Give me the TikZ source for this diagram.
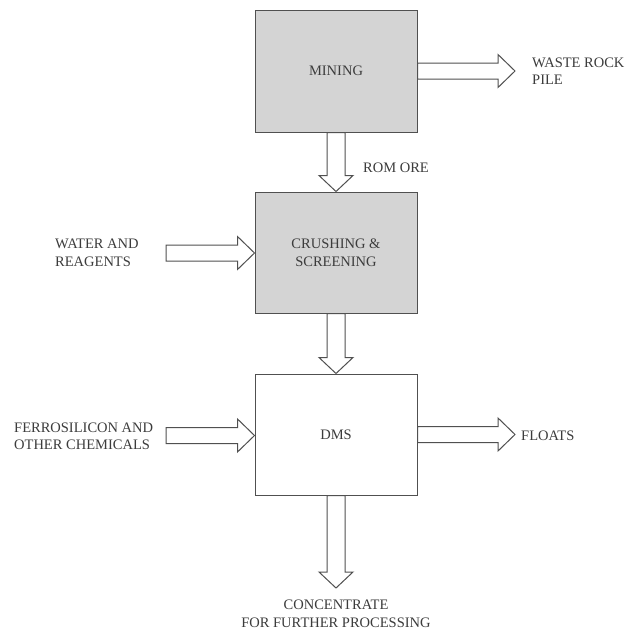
\documentclass[tikz,border=0pt]{standalone}
\usepackage{fontspec}
\setmainfont{Liberation Serif}
\usetikzlibrary{calc}
\definecolor{boxgray}{HTML}{D4D4D4}
\definecolor{linegray}{HTML}{505050}
\definecolor{txtgray}{HTML}{3C3C3C}
\newcommand\rarrow[2]{\draw[blk] let \p1=(#1), \p2=(#2) in (\x1,\y1+8pt) -- (\x2-17pt,\y1+8pt) -- (\x2-17pt,\y1+16.5pt) -- (\x2,\y1) -- (\x2-17pt,\y1-16.5pt) -- (\x2-17pt,\y1-8pt) -- (\x1,\y1-8pt) -- cycle;}
\newcommand\darrow[2]{\draw[blk] let \p1=(#1), \p2=(#2) in (\x1-9pt,\y1) -- (\x1-9pt,\y2+16pt) -- (\x1-17pt,\y2+16pt) -- (\x1,\y2) -- (\x1+17pt,\y2+16pt) -- (\x1+9pt,\y2+16pt) -- (\x1+9pt,\y1) -- cycle;}
\begin{document}
\begin{tikzpicture}[x=1pt,y=-1pt,
  box/.style={draw=linegray, line width=1pt, minimum width=162pt, minimum height=122pt, inner sep=0pt, font=\fontsize{14.5}{17.5}\selectfont, text=txtgray, align=center},
  lbl/.style={font=\fontsize{14.5}{17.5}\selectfont, text=txtgray, inner sep=0pt, align=left},
  blk/.style={draw=linegray, line width=1pt, fill=white, line join=miter}]
\useasboundingbox[fill=white] (0,0) rectangle (643,632);
\node[box, fill=boxgray] (mining) at (336,71) {MINING};
\node[box, fill=boxgray, minimum height=121pt] (crush) at (336,252.5) {CRUSHING \&\\SCREENING};
\node[box, fill=white, minimum height=121pt] (dms) at (336,434.5) {DMS};
\node[lbl, anchor=west] (waste) at (532,71) {WASTE ROCK\\PILE};
\node[lbl, anchor=west] (rom) at (363,168) {ROM ORE};
\node[lbl, anchor=west] (water) at (55,253) {WATER AND\\REAGENTS};
\node[lbl, anchor=west] (ferro) at (14,436.5) {FERROSILICON AND\\OTHER CHEMICALS};
\node[lbl, anchor=west] (floats) at (521,436) {FLOATS};
\node[lbl, align=center] (conc) at (336,614) {CONCENTRATE\\FOR FURTHER PROCESSING};
\coordinate (wastetip) at (515,71);
\coordinate (watertail) at (166,253);
\coordinate (ferrotail) at (166,435.5);
\coordinate (floatstip) at (515,435.5);
\coordinate (conctip) at (336,588);
\rarrow{mining.east}{wastetip}
\darrow{mining.south}{crush.north}
\rarrow{watertail}{crush.west}
\darrow{crush.south}{dms.north}
\rarrow{ferrotail}{dms.west}
\rarrow{dms.east}{floatstip}
\darrow{dms.south}{conctip}
\end{tikzpicture}
\end{document}
